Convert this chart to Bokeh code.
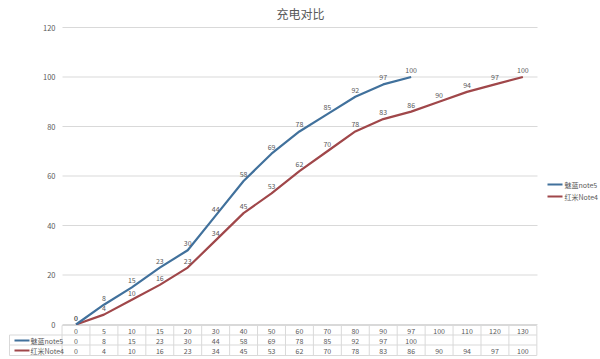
from bokeh.plotting import figure
from bokeh.models import Range1d
from bokeh.core.properties import value
from bokeh.embed import file_html
from bokeh.resources import INLINE

# ---- data ----
title = "充电对比"
categories = ["0", "5", "10", "15", "20", "30", "40", "50", "60", "70", "80", "90", "97", "100", "110", "120", "130"]
series_names = ["魅蓝note5", "红米Note4"]
meilan = [0, 8, 15, 23, 30, 44, 58, 69, 78, 85, 92, 97, 100]
hongmi = [0, 4, 10, 16, 23, 34, 45, 53, 62, 70, 78, 83, 86, 90, 94, 97, 100]
yticks = [0, 20, 40, 60, 80, 100, 120]

# ---- layout ----
W, H = 600, 359
X0PX, DXPX = 75.5, 27.93
Y0PX, DYPX = 324.0, 2.475
FONT = value("Noto Sans CJK SC")
TXT = "#595959"
GRID = "#D9D9D9"
BLUE = "#41719C"
RED = "#A0474A"


def sx(px):
    return (px - X0PX) / DXPX


def sy(py):
    return (Y0PX - py) / DYPX


p = figure(width=W, height=H, x_range=Range1d(sx(0), sx(W)), y_range=Range1d(sy(H), sy(0)),
           output_backend="svg", toolbar_location=None, x_axis_type=None, y_axis_type=None,
           min_border=0, background_fill_color="white", border_fill_color="white")
p.grid.visible = False
p.outline_line_color = None

n = len(categories)
idx = list(range(n))

# gridlines
p.segment(x0=[sx(62)] * len(yticks), x1=[sx(537)] * len(yticks), y0=yticks, y1=yticks,
          line_color=GRID, line_width=1)
# y tick labels
p.text(x=[sx(55)] * len(yticks), y=yticks, text=[str(t) for t in yticks], text_font=FONT,
       text_font_size="7.5px", text_color=TXT, text_align="right", text_baseline="middle")

# title
p.text(x=[sx(300)], y=[sy(13)], text=[title], text_font=FONT, text_font_size="12px",
       text_color=TXT, text_align="center", text_baseline="middle")

# lines
p.line(idx[:len(hongmi)], hongmi, line_color=RED, line_width=2.2)
p.line(idx[:len(meilan)], meilan, line_color=BLUE, line_width=2.2)

# data labels
for vals in (hongmi, meilan):
    p.text(x=idx[:len(vals)], y=vals, text=[str(v) for v in vals], text_font=FONT,
           text_font_size="7px", text_color=TXT, text_align="center", text_baseline="bottom",
           y_offset=-4)

# data table
row_y = [sy(330), sy(340), sy(350)]
h_lines = [sy(325), sy(334.5), sy(344.5), sy(355)]
left_col = sx(9)
first = -0.5
last = n - 0.5
# horizontal borders
p.segment(x0=[first, left_col, left_col, left_col], x1=[last] * 4, y0=h_lines, y1=h_lines,
          line_color=GRID, line_width=1)
# vertical borders
vx = [i - 0.5 for i in range(n + 1)]
p.segment(x0=vx, x1=vx, y0=[h_lines[0]] * len(vx), y1=[h_lines[3]] * len(vx),
          line_color=GRID, line_width=1)
p.segment(x0=[left_col], x1=[left_col], y0=[h_lines[1]], y1=[h_lines[3]],
          line_color=GRID, line_width=1)

# category row
p.text(x=idx, y=[row_y[0]] * n, text=categories, text_font=FONT, text_font_size="7px",
       text_color=TXT, text_align="center", text_baseline="middle")
# series rows
for r, vals, col, name in ((1, meilan, BLUE, series_names[0]), (2, hongmi, RED, series_names[1])):
    p.text(x=idx[:len(vals)], y=[row_y[r]] * len(vals), text=[str(v) for v in vals], text_font=FONT,
           text_font_size="7px", text_color=TXT, text_align="center", text_baseline="middle")
    p.segment(x0=[sx(14)], x1=[sx(29)], y0=[row_y[r]], y1=[row_y[r]], line_color=col, line_width=2)
    p.text(x=[sx(30)], y=[row_y[r]], text=[name], text_font=FONT, text_font_size="7px",
           text_color=TXT, text_align="left", text_baseline="middle")

# right legend
leg_y = [sy(184), sy(196)]
for yy, col, name in zip(leg_y, (BLUE, RED), series_names):
    p.segment(x0=[sx(547)], x1=[sx(562)], y0=[yy], y1=[yy], line_color=col, line_width=2)
    p.text(x=[sx(564)], y=[yy], text=[name], text_font=FONT, text_font_size="7px",
           text_color=TXT, text_align="left", text_baseline="middle")

open("out.html", "w").write(file_html(p, INLINE))
